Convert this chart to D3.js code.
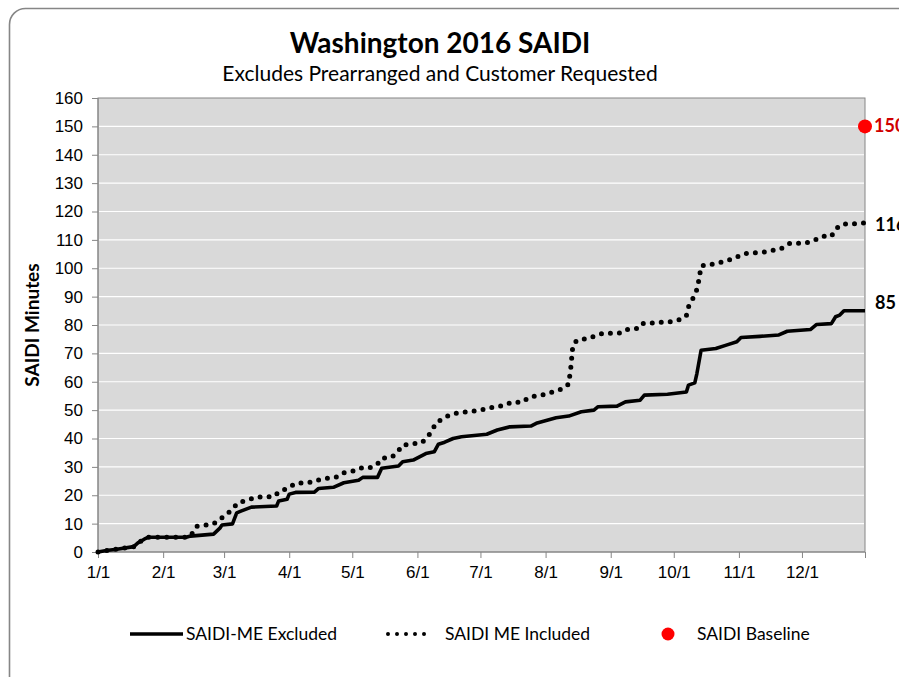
<!DOCTYPE html>
<html>
<head>
<meta charset="utf-8">
<script src="https://cdn.jsdelivr.net/npm/d3@7"></script>
<style>
  body { margin: 0; background: #fff; }
  svg { font-family: Lato, "Noto Sans", sans-serif; }
  .grid line { stroke: #fff; stroke-width: 1.2; }
  .axis path, .axis line { stroke: #868686; }
  .axis text { font-size: 17px; fill: #000; }
</style>
</head>
<body>
<div id="chart"></div>
<script>
//
// values
var excludedDates = ['1/1','1/5','1/10','1/18','1/20','1/23','1/25','2/12','2/14','2/25','2/28','2/29',
  '3/5','3/7','3/9','3/14','3/26','3/27','3/31','4/1','4/4','4/13','4/15','4/22','4/27','5/4','5/6',
  '5/13','5/15','5/23','5/25','5/30','6/5','6/9','6/11','6/14','6/18','6/22','7/4','7/9','7/15',
  '7/25','7/28','8/6','8/12','8/18','8/24','8/26','9/4','9/8','9/15','9/17','9/28','10/7','10/8',
  '10/11','10/12','10/14','10/21','10/26','10/31','11/2','11/11','11/20','11/24','12/5','12/8',
  '12/15','12/17','12/19','12/21','12/31'],
    excludedMinutes = [0,0.5,1.0,1.9,3.2,4.5,5.2,5.2,5.6,6.3,8.4,9.5,
  9.9,13.8,14.4,15.8,16.2,18,18.6,20.4,21,21.1,22.4,22.8,24.4,25.3,26.3,
  26.3,29.5,30.3,31.8,32.4,34.7,35.3,38.0,38.7,40.0,40.6,41.5,43,44.1,
  44.4,45.5,47.3,47.9,49.4,50,51.2,51.4,52.9,53.5,55.3,55.6,56.4,58.8,
  59.6,62.9,71.1,71.7,72.9,74.1,75.6,76,76.5,77.8,78.4,80.2,
  80.5,82.9,83.5,85,85];

var includedDates = ['1/1','1/5','1/10','1/18','1/20','1/23','1/25','2/12','2/14','2/17','2/25','2/28',
  '3/2','3/8','3/12','3/16','3/25','3/27','3/31','4/4','4/12','4/16','4/24','4/27','5/2','5/6','5/10',
  '5/13','5/15','5/20','5/23','5/25','6/3','6/6','6/8','6/10','6/13','6/16','6/20','6/29','7/3','7/8',
  '7/12','7/16','7/21','7/24','8/1','8/9','8/12','8/13','8/14','8/16','8/20','8/24','8/28','9/6',
  '9/9','9/14','9/16','9/30','10/4','10/7','10/8','10/10','10/12','10/13','10/14','10/19','10/23',
  '10/27','10/31','11/4','11/12','11/17','11/21','11/25','12/3','12/7','12/11','12/15','12/17',
  '12/20','12/29','12/31'],
    includedMinutes = [0,0.5,1.0,1.9,3.2,4.5,5.2,5.2,5.6,9.1,9.9,11.6,
  13,17.5,18.2,19.3,19.6,21.2,22.4,24.2,24.6,25.6,26.5,27.9,28.6,29.8,29.8,
  31,33,33.5,35.7,37.7,38.5,40.6,43,45.5,47,48.2,49,49.8,50.3,51.2,
  51.6,52.8,52.8,54.5,55.6,57.5,59.2,65,73,74.6,75.1,76,77,77.2,
  78.4,78.8,80.5,81.2,81.9,83.3,86.4,89.2,92.5,96,100.8,101.4,102,
  102.8,104,105.2,105.6,106.3,106.9,108.7,108.9,109.9,111.3,111.3,113.8,
  115.5,115.8,116];

var baselineDate = '12/31',
    baselineMinutes = 150,
    yTicks = d3.range(0, 161, 10);

var parse = d3.timeParse('%m/%d/%Y'),
    toDate = function(s) { return parse(s + '/2016'); },
    zip = function(ds, vs) { return ds.map(function(d, i) { return { date: toDate(d), value: vs[i] }; }); },
    excluded = zip(excludedDates, excludedMinutes),
    included = zip(includedDates, includedMinutes);

var width = 899, height = 677,
    plot = { left: 98, top: 98, right: 865, bottom: 552 };

var svg = d3.select('#chart').append('svg')
  .attr('width', width).attr('height', height);

// outer chart border (rounded, runs off the right/bottom)
svg.append('rect')
  .attr('x', 9.5).attr('y', 8.5).attr('width', 905).attr('height', 690)
  .attr('rx', 16).attr('fill', '#fff')
  .attr('stroke', '#868686').attr('stroke-width', 1.6);

var x = d3.scaleTime()
  .domain([toDate('1/1'), toDate('12/31')])
  .range([plot.left, plot.right]);
var y = d3.scaleLinear()
  .domain([0, 160])
  .range([plot.bottom, plot.top]);

svg.append('rect')
  .attr('x', plot.left).attr('y', plot.top)
  .attr('width', plot.right - plot.left).attr('height', plot.bottom - plot.top)
  .attr('fill', '#d9d9d9').attr('stroke', '#868686');

svg.append('g').attr('class', 'grid')
  .selectAll('line').data(yTicks.slice(1, -1)).enter()
  .append('line')
    .attr('x1', plot.left + 1).attr('x2', plot.right - 1)
    .attr('y1', function(d) { return y(d); })
    .attr('y2', function(d) { return y(d); });

svg.append('g').attr('class', 'axis')
  .attr('transform', 'translate(' + plot.left + ',0)')
  .call(d3.axisLeft(y).tickValues(yTicks).tickSizeOuter(0).tickSize(6).tickPadding(9))
  .call(function(g) { g.select('.domain').remove(); });

svg.append('line')
  .attr('x1', plot.left).attr('x2', plot.left)
  .attr('y1', plot.top).attr('y2', plot.bottom)
  .attr('stroke', '#868686');

svg.append('g').attr('class', 'axis')
  .attr('transform', 'translate(0,' + plot.bottom + ')')
  .call(d3.axisBottom(x)
    .tickValues(d3.timeMonth.range(toDate('1/1'), toDate('12/31')).concat([toDate('12/31')]))
    .tickFormat(function(d, i) { return i < 12 ? d3.timeFormat('%-m/%-d')(d) : ''; })
    .tickSizeOuter(0).tickSize(6).tickPadding(8))
  .call(function(g) { g.select('.domain').attr('d', 'M' + plot.left + ',0H' + plot.right); });

var line = d3.line()
  .x(function(d) { return x(d.date); })
  .y(function(d) { return y(d.value); });

svg.append('path').datum(included)
  .attr('d', line)
  .attr('fill', 'none').attr('stroke', '#000')
  .attr('stroke-width', 5).attr('stroke-linecap', 'round')
  .attr('stroke-dasharray', '0,9');

svg.append('path').datum(excluded)
  .attr('d', line)
  .attr('fill', 'none').attr('stroke', '#000')
  .attr('stroke-width', 3.6).attr('stroke-linejoin', 'round');

svg.append('circle')
  .attr('cx', x(toDate(baselineDate))).attr('cy', y(baselineMinutes))
  .attr('r', 7).attr('fill', '#ff0000');

// end-of-series labels
var lastIncl = included[included.length - 1],
    lastExcl = excluded[excluded.length - 1];
svg.append('text').attr('x', plot.right + 9).attr('y', y(baselineMinutes) + 6)
  .attr('fill', '#d00000').attr('font-weight', 'bold').attr('font-size', 18)
  .text(baselineMinutes);
svg.append('text').attr('x', plot.right + 10).attr('y', y(lastIncl.value) + 8)
  .attr('font-weight', 'bold').attr('font-size', 18)
  .text(Math.round(lastIncl.value));
svg.append('text').attr('x', plot.right + 10).attr('y', y(lastExcl.value) - 2)
  .attr('font-weight', 'bold').attr('font-size', 18)
  .text(Math.round(lastExcl.value));

// titles
svg.append('text').attr('x', 440).attr('y', 53).attr('text-anchor', 'middle')
  .attr('font-weight', 'bold').attr('font-size', 28)
  .text('Washington 2016 SAIDI');
svg.append('text').attr('x', 440).attr('y', 81).attr('text-anchor', 'middle')
  .attr('font-size', 21)
  .text('Excludes Prearranged and Customer Requested');
svg.append('text')
  .attr('transform', 'translate(39,' + ((plot.top + plot.bottom) / 2) + ') rotate(-90)')
  .attr('text-anchor', 'middle').attr('font-weight', 'bold').attr('font-size', 19)
  .text('SAIDI Minutes');

// legend
var legend = svg.append('g').attr('transform', 'translate(0,634)');
legend.append('line').attr('x1', 130).attr('x2', 183)
  .attr('stroke', '#000').attr('stroke-width', 3.6);
legend.append('text').attr('x', 186).attr('y', 6).attr('font-size', 17.5).text('SAIDI-ME Excluded');
legend.append('line').attr('x1', 388).attr('x2', 433)
  .attr('stroke', '#000').attr('stroke-width', 4).attr('stroke-linecap', 'round')
  .attr('stroke-dasharray', '0,9');
legend.append('text').attr('x', 445).attr('y', 6).attr('font-size', 17.5).text('SAIDI ME Included');
legend.append('circle').attr('cx', 668).attr('cy', 0).attr('r', 6.5).attr('fill', '#ff0000');
legend.append('text').attr('x', 697).attr('y', 6).attr('font-size', 17.5).text('SAIDI Baseline');
</script>
</body>
</html>
